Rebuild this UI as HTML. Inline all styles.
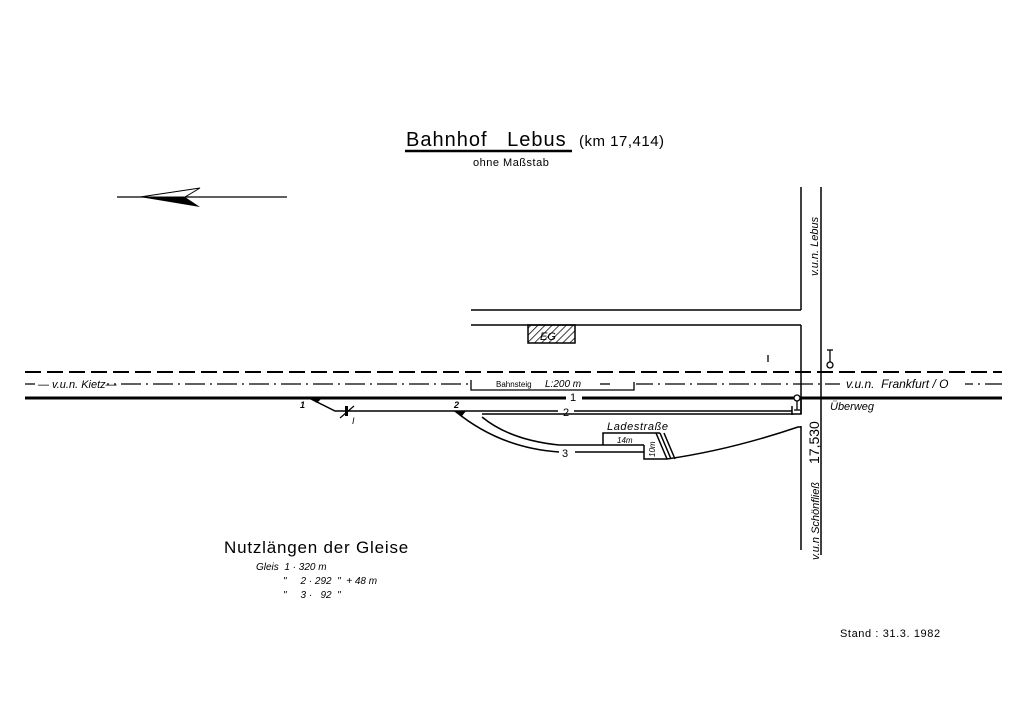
<!DOCTYPE html>
<html><head><meta charset="utf-8"><style>
html,body{margin:0;padding:0;background:#fff;}
svg{display:block;}
text{font-family:"Liberation Sans",sans-serif;fill:#000;white-space:pre;}
.i{font-style:italic;}
</style></head><body>
<svg width="1024" height="724" viewBox="0 0 1024 724" xmlns="http://www.w3.org/2000/svg" xml:space="preserve">
<defs>
<pattern id="h" width="5" height="5" patternUnits="userSpaceOnUse" patternTransform="rotate(45)">
<line x1="0" y1="0" x2="0" y2="5" stroke="#000" stroke-width="1.5"/></pattern>
</defs>
<text x="406" y="146" font-size="20" letter-spacing="1">Bahnhof   Lebus</text>
<text x="579" y="146" font-size="15" letter-spacing="0.5">(km 17,414)</text>
<line x1="405" y1="151" x2="572" y2="151" stroke="#000" stroke-width="2.5"/>
<text x="473" y="166" font-size="11" letter-spacing="0.5">ohne Maßstab</text>
<line x1="117" y1="197" x2="287" y2="197" stroke="#000" stroke-width="1.3"/>
<path d="M140 197 L200 188 L185 197 L200 207 Z" fill="#000"/>
<path d="M140 197 L200 188 L185 197 Z" fill="#fff" stroke="#000" stroke-width="1"/>
<g stroke="#000" stroke-width="1.5" fill="none">
<line x1="801" y1="187" x2="801" y2="310"/>
<line x1="821" y1="187" x2="821" y2="555"/>
<line x1="471" y1="310" x2="801" y2="310"/>
<line x1="471" y1="325" x2="801" y2="325"/>
<line x1="801" y1="325" x2="801" y2="414"/>
<line x1="801" y1="426" x2="801" y2="550"/>
</g>
<rect x="528" y="325" width="47" height="18" fill="url(#h)" stroke="#000" stroke-width="1.5"/>
<text x="540" y="340" font-size="11" class="i">EG</text>
<line x1="25" y1="372" x2="1002" y2="372" stroke="#000" stroke-width="2" stroke-dasharray="16,6"/>
<line x1="25" y1="384" x2="1002" y2="384" stroke="#000" stroke-width="1.3" stroke-dasharray="20,5,2,5"/>
<rect x="35" y="378" width="72" height="12" fill="#fff"/>
<text x="38" y="388" font-size="11" class="i">— v.u.n. Kietz—</text>
<rect x="840" y="378" width="125" height="12" fill="#fff"/>
<text x="846" y="388" font-size="12" class="i">v.u.n.  Frankfurt / O</text>
<rect x="470" y="379" width="166" height="10" fill="#fff"/>
<path d="M471 380 V390 H634 V382" stroke="#000" stroke-width="1.3" fill="none"/>
<text x="496" y="387" font-size="8">Bahnsteig</text>
<text x="545" y="387" font-size="10" class="i">L:200 m</text>
<line x1="600" y1="384" x2="610" y2="384" stroke="#000" stroke-width="1.3"/>
<line x1="25" y1="398" x2="1002" y2="398" stroke="#000" stroke-width="3"/>
<rect x="566" y="392" width="16" height="10" fill="#fff"/>
<text x="570" y="401" font-size="11">1</text>
<g stroke="#000" stroke-width="1.5" fill="none">
<path d="M309 398 L335 411 L558 411"/>
<path d="M574 411 L792 411"/>
<line x1="792" y1="406" x2="792" y2="415"/>
<path d="M801 398 V414 H482"/>
<path d="M455 411 Q500 448 559 452"/>
<path d="M482 417 Q510 440 559 445 L644 445"/>
<path d="M575 452 L644 452"/>
<path d="M603 445 V433 H660"/>
<path d="M644 445 V459 H667 Q730 450 798 427 L801 427"/>
<path d="M656 433 L667 459 M660 433 L671 459 M664 433 L675 459"/>
</g>
<path d="M309 398 L322 398 L317 403 Z" fill="#000"/>
<path d="M453 411 L466 411 L462 416 Z" fill="#000"/>
<text x="563" y="416" font-size="11">2</text>
<text x="562" y="457" font-size="11">3</text>
<text x="300" y="408" font-size="9" class="i" font-weight="bold">1</text>
<text x="454" y="408" font-size="9" class="i" font-weight="bold">2</text>
<rect x="345" y="406" width="3" height="10" fill="#000"/>
<line x1="340" y1="418" x2="354" y2="406" stroke="#000" stroke-width="1.2"/>
<text x="352" y="424" font-size="9" class="i">I</text>
<g stroke="#000" stroke-width="1.3" fill="#fff">
<line x1="830" y1="350" x2="830" y2="362"/><line x1="827" y1="350" x2="833" y2="350"/>
<circle cx="830" cy="365" r="3"/>
<line x1="797" y1="400" x2="797" y2="410"/><line x1="794" y1="410" x2="800" y2="410"/>
<circle cx="797" cy="398" r="3"/>
<line x1="768" y1="355" x2="768" y2="362"/>
</g>
<text x="830" y="410" font-size="11" class="i">Überweg</text>
<text x="607" y="430" font-size="11" class="i" letter-spacing="0.6">Ladestraße</text>
<text x="617" y="443" font-size="8" class="i">14m</text>
<text transform="translate(655,457) rotate(-90)" font-size="8" class="i">10m</text>
<text transform="translate(819,464) rotate(-90)" font-size="14">17,530</text>
<text transform="translate(818,276) rotate(-90)" font-size="11" class="i">v.u.n. Lebus</text>
<text transform="translate(819,560) rotate(-90)" font-size="11" class="i">v.u.n Schönfließ</text>
<text x="224" y="553" font-size="17" letter-spacing="0.8">Nutzlängen der Gleise</text>
<text x="256" y="570" font-size="10" class="i">Gleis  1 · 320 m</text>
<text x="283" y="584" font-size="10" class="i">"     2 · 292  "  + 48 m</text>
<text x="283" y="598" font-size="10" class="i">"     3 ·   92  "</text>
<text x="840" y="637" font-size="11" letter-spacing="0.6">Stand : 31.3. 1982</text>
</svg>
</body></html>
